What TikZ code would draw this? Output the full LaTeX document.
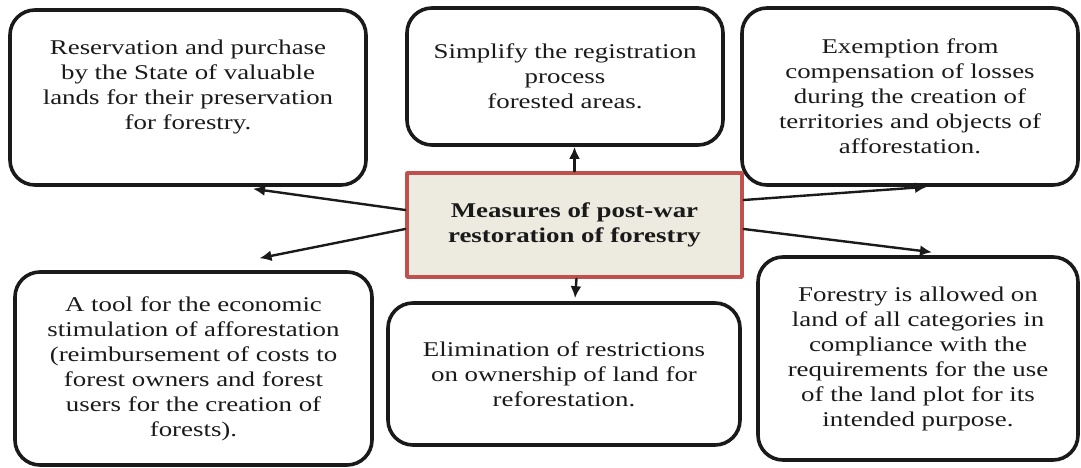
\documentclass[tikz,border=0pt]{standalone}
\usepackage{fontspec}
\setmainfont{Liberation Serif}[FakeStretch=1.28]
\usetikzlibrary{arrows.meta}

\definecolor{ink}{HTML}{1A1A1A}
\definecolor{boxred}{HTML}{C0504D}
\definecolor{boxfill}{HTML}{EDEAE0}

\begin{document}
\begin{tikzpicture}[x=1pt, y=1pt, line cap=round, line join=round,
  box/.style={draw=ink, line width=3.6pt, rounded corners=25pt, align=center,
    text=ink, inner sep=0pt, font=\fontsize{21}{25}\selectfont},
  centre/.style={draw=boxred, line width=3.4pt, fill=boxfill, align=center,
    text=ink, inner sep=0pt, font=\fontsize{21}{25}\selectfont\bfseries},
  link/.style={draw=ink, line width=2.4pt, -{Latex[length=12pt,width=11pt]}}]

\useasboundingbox (0,0) rectangle (1081,467);

% Centre
\node[centre, minimum width=335pt, minimum height=104pt] (measures) at (574.5,242)
  {Measures of post-war\\ restoration of forestry};

% Boxes
\node[box, minimum width=356pt, minimum height=175pt] (reserve) at (188,369.5)
  {Reservation and purchase\\ by the State of valuable\\ lands for their preservation\\ for forestry.\\ \mbox{}};
\node[box, minimum width=316pt, minimum height=137pt] (register) at (565,390.5)
  {Simplify the registration\\ process\\ forested areas.};
\node[box, minimum width=336pt, minimum height=177pt] (exempt) at (910,370.5)
  {Exemption from\\ compensation of losses\\ during the creation of\\ territories and objects of\\ afforestation.};
\node[box, minimum width=357pt, minimum height=193pt] (stimulus) at (193.5,98.5)
  {A tool for the economic\\ stimulation of afforestation\\ (reimbursement of costs to\\ forest owners and forest\\ users for the creation of\\ forests).};
\node[box, minimum width=352pt, minimum height=142pt] (ownership) at (564,93)
  {Elimination of restrictions\\ on ownership of land for\\ reforestation.};
\node[box, minimum width=320pt, minimum height=203pt] (allowed) at (918,108.5)
  {Forestry is allowed on\\ land of all categories in\\ compliance with the\\ requirements for the use\\ of the land plot for its\\ intended purpose.};

% Arrows
\draw[link] ([yshift=15pt]measures.west) -- ([xshift=65pt,yshift=-2pt]reserve.south);
\draw[link] ([yshift=-4pt]measures.west) -- ([xshift=66pt,yshift=12pt]stimulus.north);
\draw[link] (measures.north) -- (measures.north |- register.south);
\draw[link] ([xshift=2pt]measures.south) -- ([xshift=11pt,yshift=3pt]ownership.north);
\draw[link] ([yshift=25pt]measures.east) -- ([xshift=17pt]exempt.south);
\draw[link] ([yshift=-4pt]measures.east) -- ([xshift=14pt,yshift=3pt]allowed.north);

\end{tikzpicture}
\end{document}
